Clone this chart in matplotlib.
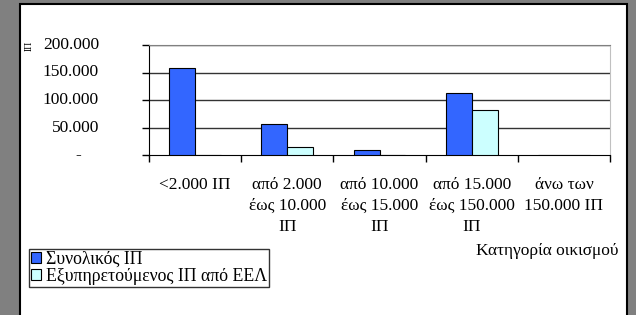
import matplotlib.pyplot as plt
import matplotlib.transforms as mtransforms
from matplotlib.patches import Rectangle
import numpy as np

plt.rcParams['font.family'] = ['Liberation Serif', 'DejaVu Serif']

categories = ["<2.000 ΙΠ", "από 2.000\nέως 10.000\nΙΠ", "από 10.000\nέως 15.000\nΙΠ",
              "από 15.000\nέως 150.000\nΙΠ", "άνω των\n150.000 ΙΠ"]
total_pe = [159000, 56000, 10000, 112000, 0]
served_pe = [0, 14000, 0, 81000, 0]
series_names = ["Συνολικός ΙΠ", "Εξυπηρετούμενος ΙΠ από ΕΕΛ"]
y_ticks = [0, 50000, 100000, 150000, 200000]
y_labels = ["-", "50.000", "100.000", "150.000", "200.000"]

fig = plt.figure(figsize=(6.36, 3.15), dpi=100)
fig.patch.set_facecolor('#808080')
# white chart panel with black frame
fig.patches.append(Rectangle((19.5 / 636, -0.05), 607 / 636, 1 - 3.5 / 315 + 0.05,
                             transform=fig.transFigure, facecolor='white',
                             edgecolor='black', linewidth=1.5, zorder=-1))

ax = fig.add_axes([149 / 636, 1 - 155 / 315, 461 / 636, 110 / 315])
ax.set_facecolor('white')

x = np.arange(len(categories))
w = 0.28
ax.bar(x - w / 2, total_pe, w, color='#3366FF', edgecolor='black', linewidth=0.8,
       label=series_names[0], zorder=3)
ax.bar(x + w / 2, served_pe, w, color='#CCFFFF', edgecolor='black', linewidth=0.8,
       label=series_names[1], zorder=3)

ax.set_xlim(-0.5, len(categories) - 0.5)
ax.set_ylim(0, 200000)

# gridlines
for v in y_ticks[1:]:
    ax.axhline(v, color='#333333', linewidth=1, zorder=1)

ax.spines['top'].set_color('#808080')
ax.spines['right'].set_color('#c0c0c0')
ax.spines['left'].set_color('black')
ax.spines['bottom'].set_color('black')

# y ticks, labels placed in figure x (pixels) and data y
ax.set_yticks(y_ticks)
ax.tick_params(axis='y', direction='out', length=5, width=1, labelleft=False)
trans = mtransforms.blended_transform_factory(fig.transFigure, ax.transData)
for v, lab in zip(y_ticks, y_labels):
    xpix = 78 if lab == "-" else 99
    ax.text(xpix / 636, v, lab, transform=trans, ha='right' if lab != "-" else 'center',
            va='center', fontsize=12.5)

# x ticks at category boundaries, labels at centers
ax.set_xticks(np.arange(len(categories) + 1) - 0.5)
ax.set_xticklabels([])
ax.tick_params(axis='x', which='major', direction='out', length=5, width=1)
ax.set_xticks(x, minor=True)
ax.set_xticklabels(categories, minor=True, fontsize=12.5, linespacing=1.45)
ax.tick_params(axis='x', which='minor', length=0, pad=15.5)

fig.text(29 / 636, 1 - 46 / 315, "ΙΠ", rotation=90, ha='center', va='center', fontsize=7)
fig.text(619 / 636, 1 - 251 / 315, "Κατηγορία οικισμού", ha='right', va='center', fontsize=12.5)

leg = fig.legend(loc='upper left', bbox_to_anchor=(29 / 636, 1 - 249 / 315),
                 fontsize=12.8, frameon=True, fancybox=False, edgecolor='black',
                 handlelength=0.6, handleheight=0.6, handletextpad=0.25,
                 borderpad=0.1, labelspacing=0.0, borderaxespad=0)
leg.get_frame().set_linewidth(1)

fig.savefig('out.png', dpi=100, facecolor=fig.get_facecolor())
